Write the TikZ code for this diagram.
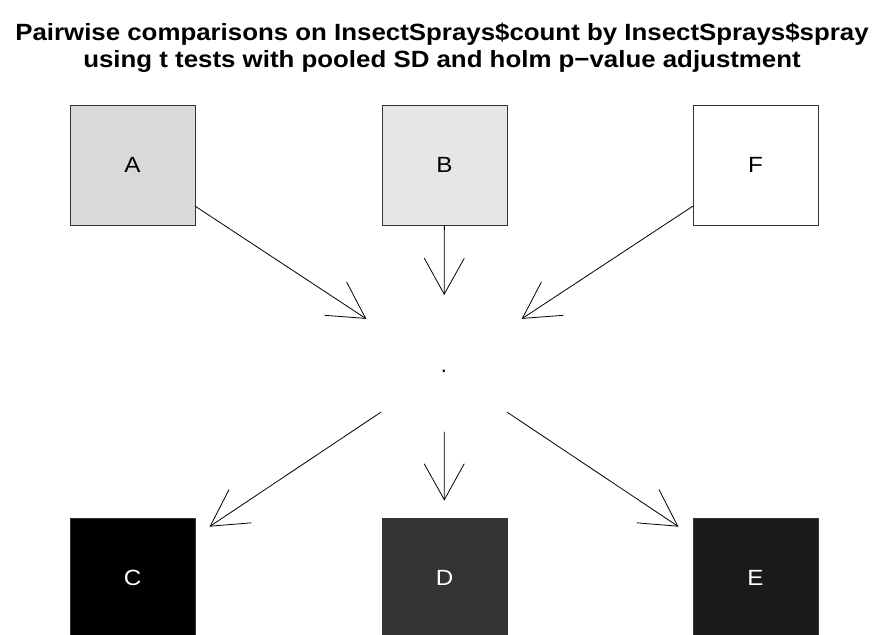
\documentclass[tikz,border=0pt]{standalone}
\usepackage{fontspec}
\setmainfont{Liberation Sans}
\newfontfamily\widefont[FakeStretch=1.1]{Liberation Sans}
\usetikzlibrary{arrows.meta}
\definecolor{greyA}{HTML}{D9D9D9}
\definecolor{greyB}{HTML}{E6E6E6}
\definecolor{greyD}{HTML}{333333}
\definecolor{greyE}{HTML}{1A1A1A}
\begin{document}
\begin{tikzpicture}[x=1pt,y=-1pt,line join=round,line cap=round,
    box/.style={draw=black!80,line width=0.8pt,minimum width=125pt,minimum height=120pt,inner sep=0pt,font=\widefont\fontsize{22}{26}\selectfont},
    arr/.style={line width=0.8pt,-{Straight Barb[length=36pt,width=40pt,line width=0.8pt]}}]
    \useasboundingbox (0,0) rectangle (874,634);
    \clip (0,0) rectangle (874,634);
    % title
    \node[font=\widefont\bfseries\fontsize{23.5}{26.5}\selectfont,align=center] (title) at (442,48)
        {Pairwise comparisons on InsectSprays\$count by InsectSprays\$spray\\using t tests with pooled SD and holm p−value adjustment};
    % upper row
    \node[box,fill=greyA] (A) at (132.5,165) {A};
    \node[box,fill=greyB] (B) at (444.5,165) {B};
    \node[box,fill=white] (F) at (755.5,165) {F};
    % lower row
    \node[box,fill=black,text=white] (C) at (132.5,578) {C};
    \node[box,fill=greyD,text=white] (D) at (444.5,578) {D};
    \node[box,fill=greyE,text=white] (E) at (755.5,578) {E};
    % centre
    \coordinate (mid) at (444,370);
    \node[font=\fontsize{22}{26}\selectfont,inner sep=0pt,anchor=base] (dot) at (444,372) {.};
    \draw[arr,shorten >=93pt] (A) -- (mid);
    \draw[arr,shorten >=75pt] (B) -- (mid);
    \draw[arr,shorten >=93pt] (F) -- (mid);
    \draw[arr,shorten <=76pt,shorten >=17pt] (mid) -- (C);
    \draw[arr,shorten <=62pt,shorten >=17pt] (mid) -- (D);
    \draw[arr,shorten <=76pt,shorten >=17pt] (mid) -- (E);
\end{tikzpicture}
\end{document}
